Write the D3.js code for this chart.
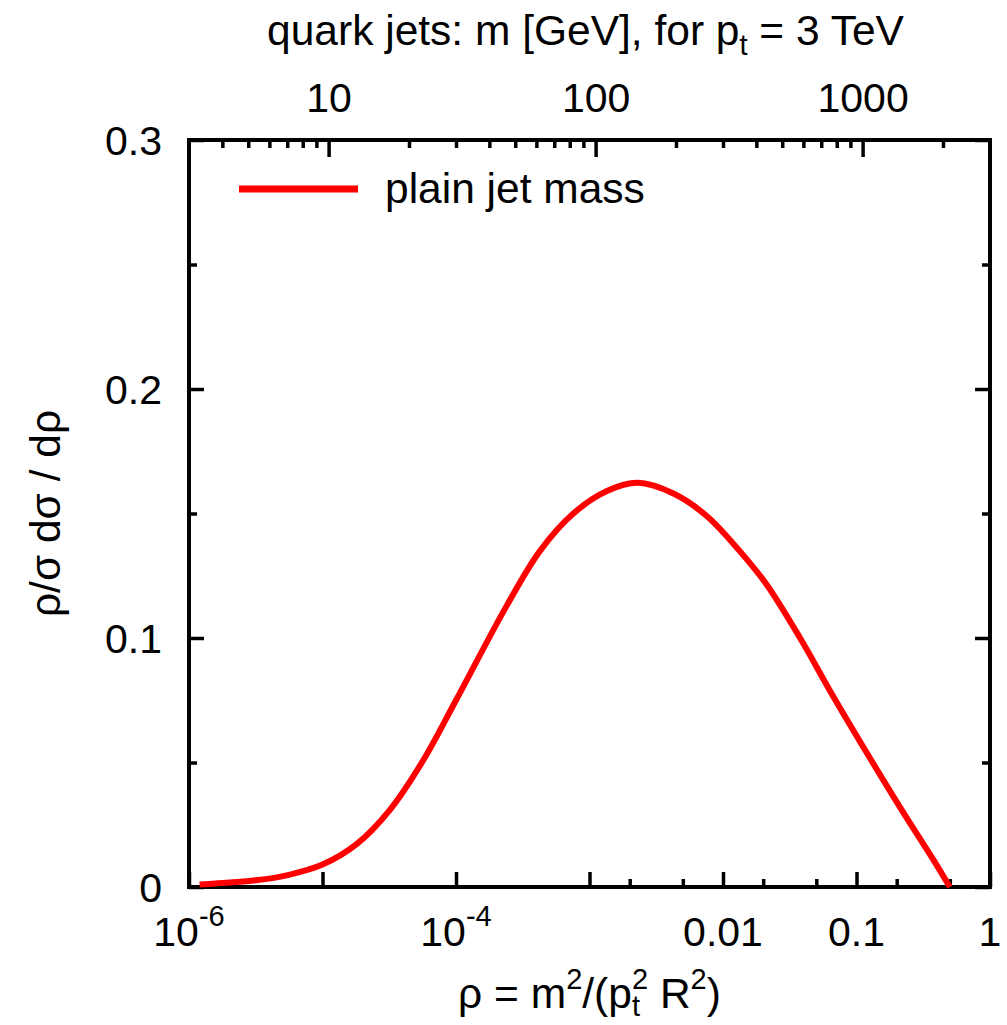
<!DOCTYPE html>
<html>
<head>
<meta charset="utf-8">
<script src="https://cdn.jsdelivr.net/npm/d3@7"></script>
<style>
  body { margin: 0; background: #fff; }
  text { font-family: "Liberation Sans", Arial, Helvetica, sans-serif; }
</style>
</head>
<body>
<svg id="chart" width="1007" height="1025"></svg>
<script>
// curve: rho and rho/sigma dsigma/drho
const rho  = [1.2e-6, 3.16e-6, 5.6e-6, 1e-5, 1.8e-5, 3.2e-5, 5.7e-5, 1e-4, 2.4e-4,
              4.26e-4, 7.57e-4, 1.35e-3, 2.3e-3, 4.25e-3, 7.55e-3, 0.0133, 0.0212, 0.0378,
              0.067, 0.119, 0.212, 0.376, 0.5];
const dist = [0.001, 0.0027, 0.0049, 0.0090, 0.0172, 0.031, 0.051, 0.075, 0.113,
              0.135, 0.150, 0.159, 0.1623, 0.158, 0.149, 0.135, 0.1215, 0.100,
              0.0765, 0.054, 0.032, 0.011, 0.0];

const seriesName = "plain jet mass";

const rhoMajor = [1e-6, 1e-5, 1e-4, 1e-3, 0.01, 0.1, 1];
const rhoMinor = [2e-3, 5e-3, 0.02, 0.05, 0.2, 0.5];
const rhoLabelVals = [1e-6, 1e-4, 0.01, 0.1, 1];
const rhoLabelText = ["10^-6", "10^-4", "0.01", "0.1", "1"];

const mMajor = [10, 100, 1000];
const mMinor = [4, 5, 6, 7, 8, 9, 20, 30, 40, 50, 60, 70, 80, 90, 200, 300, 400, 500, 600, 700, 800, 900, 2000];
const ptGeV = 3000; // m = pt * sqrt(rho), R = 1

const yMajor = [0, 0.1, 0.2, 0.3];
const yMinor = [0.05, 0.15, 0.25];

const margin = { left: 189, right: 990, top: 140, bottom: 887 };
const fs = 41;      // tick labels
const fsText = 42.5; // title, legend, axis labels
const fsSmall = 29;

const svg = d3.select("#chart");

const x = d3.scaleLog().domain([1e-6, 1]).range([margin.left, margin.right]);
const xm = d3.scaleLog().domain([ptGeV * Math.sqrt(1e-6), ptGeV]).range([margin.left, margin.right]);
const y = d3.scaleLinear().domain([0, 0.3]).range([margin.bottom, margin.top]);

function tickAxis(axis, values, len, tr) {
    const g = svg.append("g")
        .attr("transform", tr)
        .call(axis.tickValues(values).tickSizeInner(-len).tickSizeOuter(0));
    g.select(".domain").remove();
    g.selectAll(".tick line").attr("stroke", "#000").attr("stroke-width", 3.5);
    g.attr("font-size", fs).attr("font-family", null);
    return g;
}

// ticks
tickAxis(d3.axisBottom(x).tickFormat(""), rhoMajor, 15, `translate(0,${margin.bottom})`);
tickAxis(d3.axisBottom(x).tickFormat(""), rhoMinor, 8, `translate(0,${margin.bottom})`);
const gTop = tickAxis(d3.axisTop(xm).tickFormat(d3.format("d")).tickPadding(28), mMajor, 17, `translate(0,${margin.top})`);
tickAxis(d3.axisTop(xm).tickFormat(""), mMinor, 8, `translate(0,${margin.top})`);
const gLeft = tickAxis(d3.axisLeft(y).tickFormat(d => d === 0 ? "0" : d3.format(".1f")(d)).tickPadding(27),
    yMajor, 15, `translate(${margin.left},0)`);
tickAxis(d3.axisLeft(y).tickFormat(""), yMinor, 8, `translate(${margin.left},0)`);
tickAxis(d3.axisRight(y).tickFormat(""), yMajor, 15, `translate(${margin.right},0)`);
tickAxis(d3.axisRight(y).tickFormat(""), yMinor, 8, `translate(${margin.right},0)`);

gTop.selectAll("text").attr("fill", "#000");
gLeft.selectAll("text").attr("fill", "#000").attr("dy", "0.36em");

// bottom tick labels with superscripts
const bl = svg.append("g").attr("font-size", fs).attr("text-anchor", "middle");
rhoLabelVals.forEach((v, i) => {
    const parts = rhoLabelText[i].split("^");
    const t = bl.append("text").attr("x", x(v)).attr("y", 946);
    t.append("tspan").text(parts[0]);
    if (parts[1]) t.append("tspan").attr("font-size", fsSmall).attr("dy", -20).text(parts[1]);
});

// frame
svg.append("rect")
    .attr("x", margin.left).attr("y", margin.top)
    .attr("width", margin.right - margin.left).attr("height", margin.bottom - margin.top)
    .attr("fill", "none").attr("stroke", "#000").attr("stroke-width", 4);

// curve
const line = d3.line()
    .x(d => x(d[0]))
    .y(d => y(d[1]))
    .curve(d3.curveCatmullRom.alpha(0.5));
svg.append("path")
    .attr("d", line(d3.zip(rho, dist)))
    .attr("fill", "none")
    .attr("stroke", "#ff0000")
    .attr("stroke-width", 6)
    .attr("stroke-linejoin", "round");

// legend
svg.append("line")
    .attr("x1", 239).attr("x2", 358).attr("y1", 189).attr("y2", 189)
    .attr("stroke", "#ff0000").attr("stroke-width", 7);
svg.append("text")
    .attr("x", 385).attr("y", 203).attr("font-size", fsText)
    .text(seriesName);

// title (top axis label)
const title = svg.append("text")
    .attr("x", (margin.left + margin.right) / 2 - 4).attr("y", 45)
    .attr("font-size", fsText).attr("text-anchor", "middle");
title.append("tspan").text("quark jets: m [GeV], for p");
title.append("tspan").attr("font-size", fsSmall).attr("dy", 10).text("t");
title.append("tspan").attr("dy", -10).text(" = 3 TeV");

// x label
const xl = svg.append("text")
    .attr("x", (margin.left + margin.right) / 2).attr("y", 1008)
    .attr("font-size", fsText).attr("text-anchor", "middle");
xl.append("tspan").text("ρ = m");
xl.append("tspan").attr("font-size", fsSmall).attr("dy", -19).text("2");
xl.append("tspan").attr("dy", 19).text("/(p");
xl.append("tspan").attr("font-size", fsSmall).attr("dy", 8).text("t");
xl.append("tspan").attr("font-size", fsSmall).attr("dx", -8).attr("dy", -27).text("2");
xl.append("tspan").attr("dy", 19).text(" R");
xl.append("tspan").attr("font-size", fsSmall).attr("dy", -19).text("2");
xl.append("tspan").attr("dy", 19).text(")");

// y label
svg.append("text")
    .attr("transform", `translate(60,${(margin.top + margin.bottom) / 2}) rotate(-90)`)
    .attr("font-size", fsText).attr("text-anchor", "middle")
    .text("ρ/σ dσ / dρ");
</script>
</body>
</html>
